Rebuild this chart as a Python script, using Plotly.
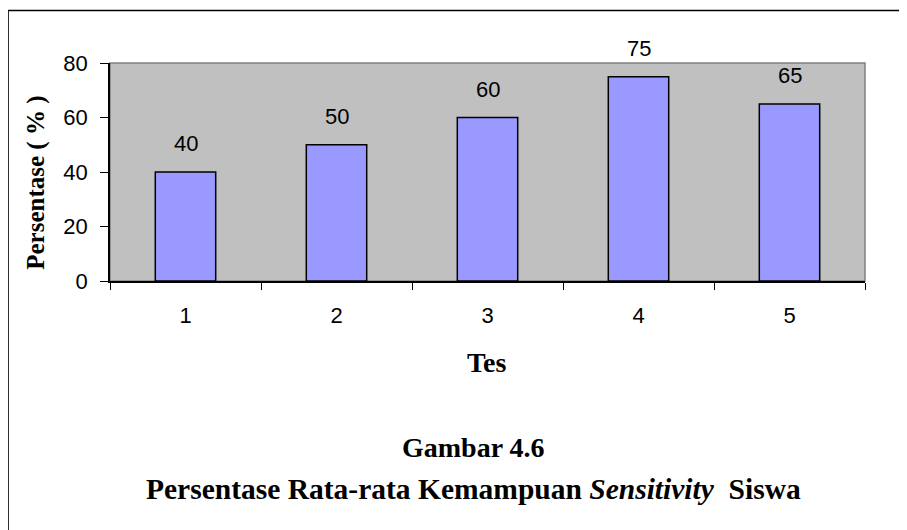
import plotly.graph_objects as go

categories = ["1", "2", "3", "4", "5"]
values = [40, 50, 60, 75, 65]
y_ticks = [0, 20, 40, 60, 80]

OFF = 8  # page body margin in the browser
W, H = 907 - OFF, 530 - OFF
L, R, T, B = 109.5, 865, 62.5, 281  # plot area in reference pixels

def px(x):
    return (x - L) / (R - L)

def py(y):
    return (B - y) / (B - T)

fig = go.Figure(go.Bar(
    x=categories, y=values,
    marker=dict(color="#9999FF", line=dict(color="black", width=1.5)),
    width=0.4, hoverinfo="skip",
))

ann = []
for i, v in enumerate(values):
    ann.append(dict(x=i, y=v, text=str(v), showarrow=False, xanchor="center", yanchor="bottom",
                    yshift=14, font=dict(family="Liberation Sans", size=22, color="black")))

serif = "Liberation Serif"
common = dict(xref="paper", yref="paper", showarrow=False, xanchor="center", yanchor="middle")
ann += [
    dict(common, x=px(487), y=py(363), text="<b>Tes</b>",
         font=dict(family=serif, size=28, color="black")),
    dict(common, x=px(36), y=py(183), text="<b>Persentase ( % )</b>", textangle=-90,
         font=dict(family=serif, size=25, color="black")),
    dict(common, x=px(473), y=py(448), text="<b>Gambar 4.6</b>",
         font=dict(family=serif, size=28, color="black")),
    dict(common, x=px(473), y=py(489),
         text="<b>Persentase Rata-rata Kemampuan <i>Sensitivity</i>&nbsp; Siswa</b>",
         font=dict(family=serif, size=29.5, color="black")),
]

shapes = [
    dict(type="rect", xref="paper", yref="paper", x0=0, x1=1, y0=0, y1=1,
         line=dict(color="#808080", width=1.5), layer="below"),
    dict(type="rect", xref="paper", yref="paper", x0=px(7.5), x1=px(920), y0=py(545), y1=py(10),
         line=dict(color="black", width=1.5)),
]

fig.update_layout(
    width=W, height=H,
    margin=dict(l=L - OFF, r=W - (R - OFF), t=T - OFF, b=H - (B - OFF), pad=0),
    paper_bgcolor="white", plot_bgcolor="#C0C0C0",
    showlegend=False, bargap=0.6,
    annotations=ann, shapes=shapes,
    font=dict(family="Liberation Sans", size=22, color="black"),
    xaxis=dict(type="category", tickson="boundaries", ticks="outside", ticklen=7,
               tickcolor="black", showline=True, linecolor="black", linewidth=1.5,
               showgrid=False, ticklabelstandoff=14, fixedrange=True,
               range=[-0.5, len(categories) - 0.5]),
    yaxis=dict(range=[0, 80], tickvals=y_ticks, ticks="outside", ticklen=8,
               tickcolor="black", showline=True, linecolor="black", linewidth=1.5,
               showgrid=False, zeroline=False, ticklabelstandoff=8, fixedrange=True),
)

fig.write_html("out.html")
